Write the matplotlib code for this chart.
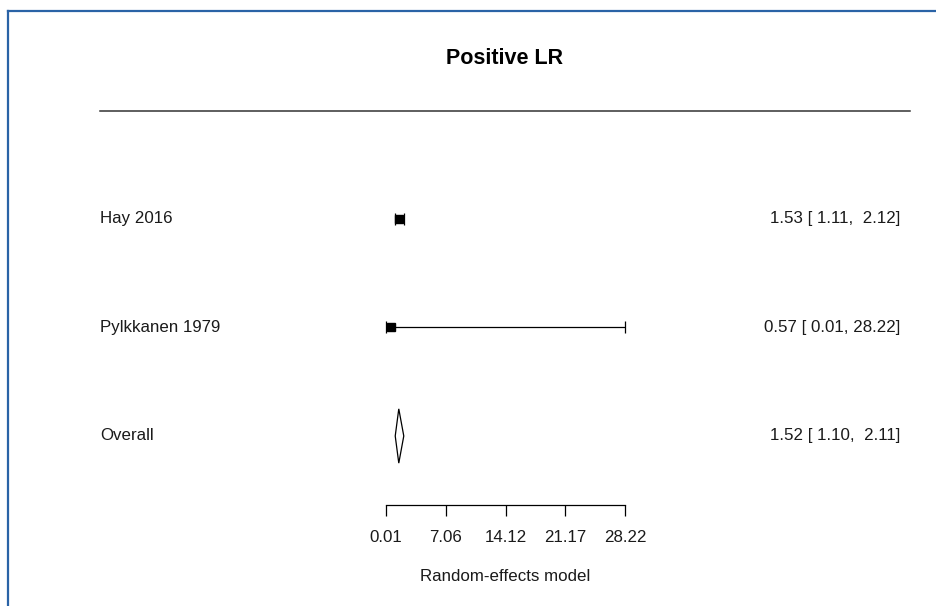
"""Forest plot: positive likelihood ratio, random-effects model."""
import matplotlib

matplotlib.use("Agg")
import matplotlib.pyplot as plt
from matplotlib.lines import Line2D
from matplotlib.patches import Polygon
from matplotlib.transforms import blended_transform_factory

plt.rcParams["font.family"] = ["Liberation Sans", "DejaVu Sans"]

STUDIES = ["Hay 2016", "Pylkkanen 1979"]
ESTIMATES = [1.53, 0.57]
CI_LOW = [1.11, 0.01]
CI_HIGH = [2.12, 28.22]
MARKER_SIZES = [5.8, 6.0]

OVERALL_LABEL = "Overall"
OVERALL_EST = 1.52
OVERALL_LOW = 1.10
OVERALL_HIGH = 2.11

XTICKS = [0.01, 7.06, 14.12, 21.17, 28.22]
TITLE = "Positive LR"
XLABEL = "Random-effects model"

W, H = 936, 606
FS = 12.2
fig = plt.figure(figsize=(W / 100, H / 100), dpi=100)
ax = fig.add_axes([0, 101 / H, 1, 505 / H])
ax.set_xlim(-45.55, 64.93)
ax.set_ylim(0.364, 5.018)

txt = "#1a1a1a"
lab_tr = blended_transform_factory(fig.transFigure, ax.transData)


def ci_text(e, lo, hi):
    return f"{e:.2f} [{lo:5.2f}, {hi:5.2f}]"


# study rows, top to bottom
rows = [3, 2]
for y, name, e, lo, hi, ms in zip(rows, STUDIES, ESTIMATES, CI_LOW, CI_HIGH, MARKER_SIZES):
    ax.errorbar([e], [y], xerr=[[e - lo], [hi - e]], fmt="s", color="black",
                markersize=ms, elinewidth=0.9, capsize=4, capthick=0.9)
    ax.text(100 / W, y, name, transform=lab_tr, ha="left", va="center",
            fontsize=FS, color=txt)
    ax.text(900 / W, y, ci_text(e, lo, hi), transform=lab_tr, ha="right",
            va="center", fontsize=FS, color=txt)

# summary diamond
yo = 1
h = 0.25
diamond = Polygon([(OVERALL_LOW, yo), (OVERALL_EST, yo + h),
                   (OVERALL_HIGH, yo), (OVERALL_EST, yo - h)],
                  closed=True, facecolor="white", edgecolor="black", linewidth=0.9)
ax.add_patch(diamond)
ax.text(100 / W, yo, OVERALL_LABEL, transform=lab_tr, ha="left", va="center",
        fontsize=FS, color=txt)
ax.text(900 / W, yo, ci_text(OVERALL_EST, OVERALL_LOW, OVERALL_HIGH),
        transform=lab_tr, ha="right", va="center", fontsize=FS, color=txt)

# x axis
for s in ["top", "left", "right"]:
    ax.spines[s].set_visible(False)
ax.spines["bottom"].set_bounds(XTICKS[0], XTICKS[-1])
ax.spines["bottom"].set_linewidth(0.9)
ax.set_yticks([])
ax.set_xticks(XTICKS)
ax.set_xticklabels([f"{t:.2f}" for t in XTICKS])
ax.tick_params(axis="x", length=8, width=0.9, labelsize=FS, pad=10, labelcolor=txt)
ax.set_xlabel(XLABEL, fontsize=FS, color=txt)
ax.xaxis.set_label_coords(505 / W, -64 / 505)
ax.patch.set_visible(False)

# title and header rule
fig.text(505 / W, 1 - 58 / H, TITLE, ha="center", va="center",
         fontsize=15.5, fontweight="bold", color="black")
fig.add_artist(Line2D([100 / W, 910 / W], [1 - 111 / H] * 2, color="#333333",
                      linewidth=1.1, transform=fig.transFigure))

# blue frame on the left and top edges
frame_col = "#2a63a6"
fig.add_artist(Line2D([8 / W, 8 / W], [0, 1 - 11 / H], color=frame_col,
                      linewidth=1.6, transform=fig.transFigure))
fig.add_artist(Line2D([8 / W, 1], [1 - 11 / H] * 2, color=frame_col,
                      linewidth=1.6, transform=fig.transFigure))

fig.savefig("out.png", dpi=100)
